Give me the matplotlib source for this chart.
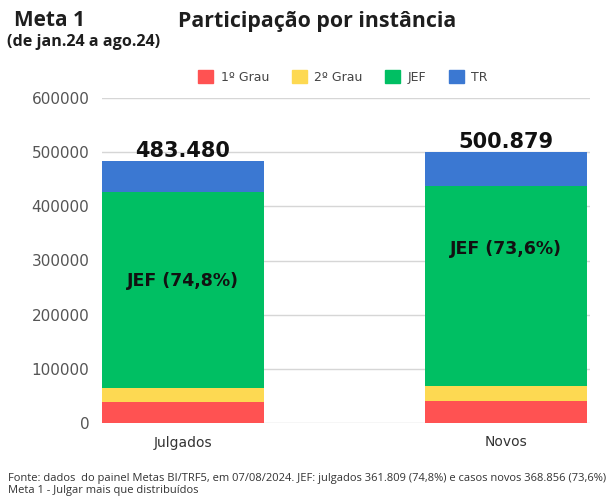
import matplotlib
matplotlib.use("Agg")
import matplotlib.pyplot as plt
from matplotlib.patches import Patch

categories = ["Julgados", "Novos"]
series_names = ["1º Grau", "2º Grau", "JEF", "TR"]
grau1 = [39000, 41000]
grau2 = [26000, 28000]
jef = [361809, 368856]
tr = [56671, 63023]
totals_labels = ["483.480", "500.879"]
jef_labels = ["JEF (74,8%)", "JEF (73,6%)"]
jef_label_y = [263000, 322000]
yticks = [0, 100000, 200000, 300000, 400000, 500000, 600000]
colors = ["#FF5252", "#FDD952", "#00BF63", "#3B78D2"]

plt.rcParams['font.family'] = ['DejaVu Sans']

fig = plt.figure(figsize=(6.11, 4.99), dpi=100)
ax = fig.add_axes([102/611, 1-423/499, (590-102)/611, (423-98)/499])

x = list(range(len(categories)))
series = [grau1, grau2, jef, tr]
bottom = [0]*len(categories)
for vals, c in zip(series, colors):
    ax.bar(x, vals, width=0.5, bottom=bottom, color=c, zorder=2)
    bottom = [b+v for b, v in zip(bottom, vals)]

for xi, tot, lab in zip(x, bottom, totals_labels):
    ax.text(xi, tot + 7000, lab, ha="center", va="baseline", fontsize=15,
            fontweight="bold", color="#111111", zorder=3)

for xi, y, lab in zip(x, jef_label_y, jef_labels):
    ax.text(xi, y, lab, ha="center", va="center", fontsize=12.5,
            fontweight="bold", color="#111111", zorder=3)

ax.set_xlim(-0.25, 1.26)
ax.set_ylim(0, 600000)
ax.set_yticks(yticks)
ax.set_yticklabels([str(v) for v in yticks], fontsize=11, color="#555555")
ax.set_xticks(x)
ax.set_xticklabels(categories, fontsize=10, color="#333333")
ax.tick_params(axis="both", length=0, pad=9)
ax.grid(axis="y", color="#d6d6d6", linewidth=1, zorder=0)
for s in ax.spines.values():
    s.set_visible(False)

handles = [Patch(facecolor=c, edgecolor=c) for c in colors]
fig.legend(handles, series_names, loc="center", bbox_to_anchor=(343/611, 1-77/499),
           ncol=4, frameon=False, fontsize=9, handlelength=1.2, handleheight=1.2,
           columnspacing=1.8, handletextpad=0.6, labelcolor="#444444")

fig.text(14/611, 1-26/499, "Meta 1", fontsize=15, fontweight="bold", color="#1e1e1e",
         ha="left", va="baseline", family="Open Sans")
fig.text(7/611, 1-46/499, "(de jan.24 a ago.24)", fontsize=11.6, fontweight="bold",
         color="#1e1e1e", ha="left", va="baseline", family="Open Sans")
fig.text(178/611, 1-27/499, "Participação por instância", fontsize=15.4,
         fontweight="bold", color="#1e1e1e", ha="left", va="baseline", family="Open Sans")

fig.text(8/611, 1-479/499,
         "Fonte: dados  do painel Metas BI/TRF5, em 07/08/2024. JEF: julgados 361.809 (74,8%) e casos novos 368.856 (73,6%)",
         fontsize=8.0, color="#333333", ha="left", va="center", family="Open Sans")
fig.text(8/611, 1-490/499, "Meta 1 - Julgar mais que distribuídos",
         fontsize=8.0, color="#333333", ha="left", va="center", family="Open Sans")

fig.savefig("out.png", dpi=100, facecolor="white")
